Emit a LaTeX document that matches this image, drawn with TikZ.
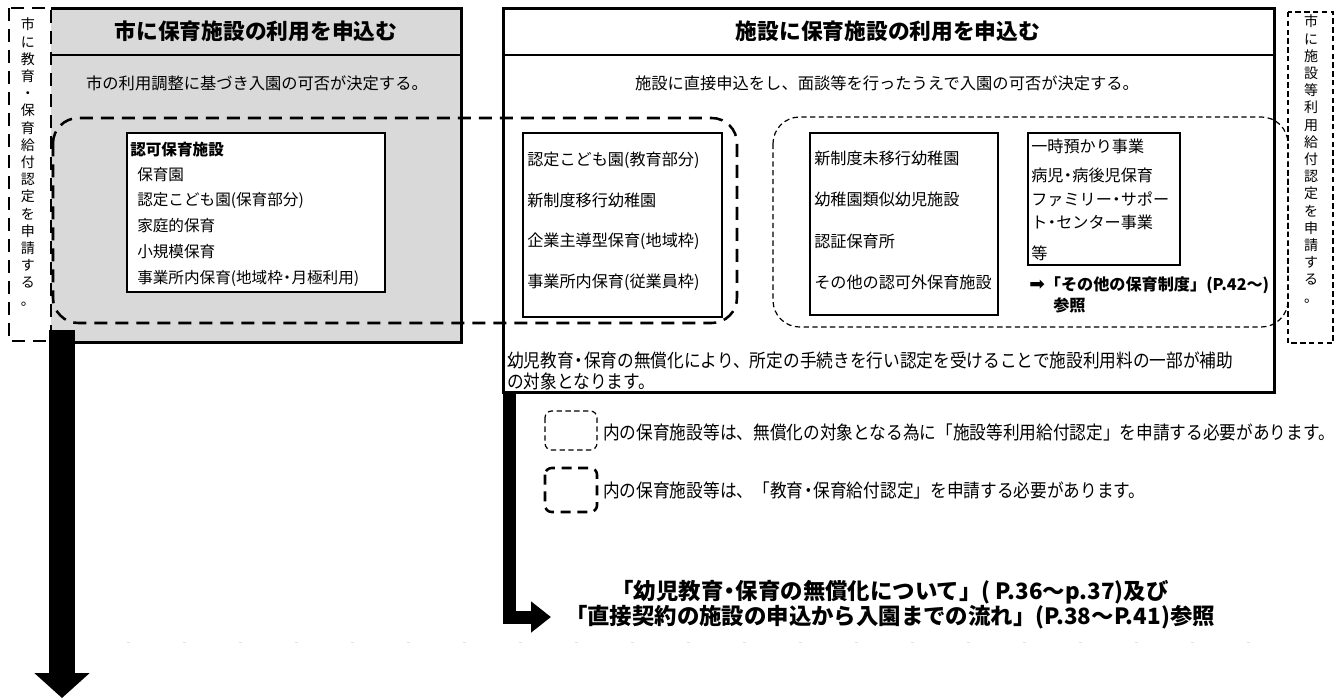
\documentclass[tikz,border=0pt]{standalone}
\usepackage{fontspec}
\setmainfont{Noto Sans CJK JP}
\newfontfamily\djv{DejaVu Sans}
\newfontfamily\jpcond[FakeStretch=0.9]{Noto Sans CJK JP}
\newcommand\nkdot{\makebox[0.55em]{・}}
\usetikzlibrary{arrows.meta}
\definecolor{boxgray}{HTML}{D9D9D9}
\definecolor{faint}{HTML}{E2E2E2}
\begin{document}
\begin{tikzpicture}[x=0.75pt,y=-0.75pt,
  txt/.style={inner sep=0pt, anchor=west, font=\fontsize{12.1pt}{14pt}\selectfont},
  ltxt/.style={inner sep=0pt, anchor=west, font=\fontsize{11.7pt}{14pt}\selectfont},
  btxt/.style={inner sep=0pt, anchor=west, font=\fontsize{12.1pt}{14pt}\selectfont\bfseries},
  ntxt/.style={inner sep=0pt, anchor=west, font=\jpcond\fontsize{13.9pt}{15pt}\selectfont},
  ttl/.style={inner sep=0pt, font=\fontsize{16.3pt}{18pt}\selectfont\bfseries},
  subt/.style={inner sep=0pt, font=\fontsize{12.2pt}{14pt}\selectfont},
  vtxt/.style={inner sep=0pt, align=center, font=\fontsize{10.5pt}{12.9pt}\selectfont},
  thickdash/.style={line width=1.9pt, dash pattern=on 9.75pt off 6pt},
  legthick/.style={line width=1.9pt, dash pattern=on 7.5pt off 5pt},
  thindash/.style={line width=0.9pt, dash pattern=on 4pt off 2.6pt},
  framebox/.style={line width=2.25pt},
  innerbox/.style={line width=1.5pt},
  bigarrow/.style={line width=19.5pt, -{Triangle[width=40.5pt,length=18.75pt]}},
  smallarrow/.style={line width=9.75pt, line join=miter, -{Triangle[width=22.5pt,length=15pt]}}
]
\useasboundingbox (0,0) rectangle (1336,700);

% left (gray) frame
\fill[boxgray] (51,8) rectangle (461,342);
\draw[framebox] (51,8) -- (461,8) -- (461,342) -- (51,342);
\draw[line width=1.5pt] (51,55) -- (461,55);
% left vertical dashed box
\draw[thickdash] (9,8) rectangle (51,341);

% right frame
\draw[framebox] (503,8) rectangle (1274,392);
\draw[line width=1.5pt] (503,55) -- (1274,55);

% inner boxes
\draw[innerbox, fill=white] (127,133) rectangle (385,292);
\draw[innerbox] (523,133) rectangle (722,317);
\draw[innerbox] (810,133) rectangle (998,315);
\draw[innerbox] (1028,133) rectangle (1180,265);

% dashed groupings
\draw[thickdash, rounded corners=19pt] (53,118) rectangle (737,323);
\draw[thindash, rounded corners=20pt] (773,117) rectangle (1288,327);
\draw[thindash] (1288,12) rectangle (1333,343);

% titles
\node[ttl] (t1) at (256,31) {市に保育施設の利用を申込む};
\node[subt] (s1) at (257,83) {市の利用調整に基づき入園の可否が決定する。};
\node[ttl] (t2) at (888,31) {施設に保育施設の利用を申込む};
\node[subt] (s2) at (887,83) {施設に直接申込をし、面談等を行ったうえで入園の可否が決定する。};

% vertical texts
\node[vtxt] (lv) at (28,162) {市\\に\\教\\育\\・\\保\\育\\給\\付\\認\\定\\を\\申\\請\\す\\る\\。};
\node[vtxt] (rv) at (1311,159) {市\\に\\施\\設\\等\\利\\用\\給\\付\\認\\定\\を\\申\\請\\す\\る\\。};

% left inner box texts
\node[btxt, font=\fontsize{11.7pt}{14pt}\selectfont\bfseries] (k0) at (130,150) {認可保育施設};
\node[ltxt] (k1) at (137,175) {保育園};
\node[ltxt] (k2) at (137,200) {認定こども園(保育部分)};
\node[ltxt] (k3) at (137,226) {家庭的保育};
\node[ltxt] (k4) at (137,252) {小規模保育};
\node[ltxt] (k5) at (137,278) {事業所内保育(地域枠\nkdot 月極利用)};

% box A
\node[txt] (a1) at (527,160) {認定こども園(教育部分)};
\node[txt] (a2) at (527,200) {新制度移行幼稚園};
\node[txt] (a3) at (527,241) {企業主導型保育(地域枠)};
\node[txt] (a4) at (527,282) {事業所内保育(従業員枠)};

% box B
\node[txt] (b1) at (814,158) {新制度未移行幼稚園};
\node[txt] (b2) at (814,199) {幼稚園類似幼児施設};
\node[txt] (b3) at (814,241) {認証保育所};
\node[txt] (b4) at (814,282) {その他の認可外保育施設};

% box C
\node[txt] (c1) at (1031,146) {一時預かり事業};
\node[txt] (c2) at (1031,175) {病児\nkdot 病後児保育};
\node[txt] (c3) at (1031,199) {ファミリー\nkdot サポー};
\node[txt] (c4) at (1031,222) {ト\nkdot センター事業};
\node[txt] (c5) at (1031,253) {等};
\node[btxt] (c6) at (1029,285) {{\djv\mdseries\fontsize{14pt}{14pt}\selectfont ➡}「その他の保育制度」(P.42～)};
\node[btxt] (c7) at (1053,305) {参照};

% note in right frame
\node[ntxt] (n1) at (507,360) {幼児教育\nkdot 保育の無償化により、所定の手続きを行い認定を受けることで施設利用料の一部が補助};
\node[ntxt] (n2) at (507,381) {の対象となります。};

% legend
\draw[thindash, rounded corners=5pt] (545,411) rectangle (597,450);
\node[ntxt] (l1) at (603,432) {内の保育施設等は、無償化の対象となる為に「施設等利用給付認定」を申請する必要があります。};
\draw[legthick, rounded corners=5pt] (545,468) rectangle (597,512);
\node[ntxt] (l2) at (603,490) {内の保育施設等は、「教育\nkdot 保育給付認定」を申請する必要があります。};

% bottom reference text
\node[inner sep=0pt, align=center, font=\fontsize{16.8pt}{18.75pt}\selectfont\bfseries] (bt) at (890,605)
  {「幼児教育\nkdot 保育の無償化について」( P.36～p.37)及び\\「直接契約の施設の申込から入園までの流れ」(P.38～P.41)参照};

% faint dotted line
\coordinate (d1) at (127,642);
\coordinate (d2) at (1250,642);
\draw[faint, line width=0.75pt, dash pattern=on 2pt off 40pt] (d1) -- (d2);

% arrows
\coordinate (a1s) at (62,330);
\coordinate (a1e) at (62,698);
\draw[bigarrow] (a1s) -- (a1e);
\coordinate (a2s) at (509,391);
\coordinate (a2e) at (551,617);
\draw[smallarrow] (a2s) |- (a2e);
\end{tikzpicture}
\end{document}
